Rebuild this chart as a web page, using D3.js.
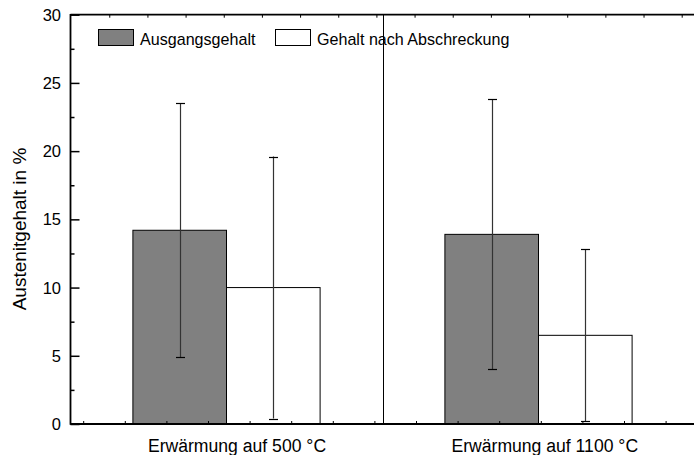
<!DOCTYPE html>
<html><head><meta charset="utf-8">
<script src="https://cdn.jsdelivr.net/npm/d3@7"></script>
<style>body{margin:0;background:#fff}svg{display:block}text{font-family:"Liberation Sans",Arial,sans-serif;fill:#000}</style>
</head><body><svg id="c" width="694" height="455"></svg>
<script>
const categories = ["Erwärmung auf 500 °C", "Erwärmung auf 1100 °C"];
const seriesNames = ["Ausgangsgehalt", "Gehalt nach Abschreckung"];
const ausgangValues = [14.2, 13.9];
const ausgangErrLow = [4.9, 4.0];
const ausgangErrHigh = [23.5, 23.8];
const abschreckValues = [10.0, 6.5];
const abschreckErrLow = [0.4, 0.2];
const abschreckErrHigh = [19.6, 12.8];
const yTicks = [0, 5, 10, 15, 20, 25, 30];
const yMinorTicks = [2.5, 7.5, 12.5, 17.5, 22.5, 27.5];

const svg = d3.select("#c");
const L = 70.5, R = 694.5, T = 14.7, B = 424;
const x = d3.scaleLinear().domain([0.5, 2.5]).range([L, R]);
const y = d3.scaleLinear().domain([0, 30]).range([B, T]);
const bw = 0.3;

const series = [
  {name: seriesNames[0], vals: ausgangValues, lo: ausgangErrLow, hi: ausgangErrHigh, fill: "#808080", off: -bw/2},
  {name: seriesNames[1], vals: abschreckValues, lo: abschreckErrLow, hi: abschreckErrHigh, fill: "#ffffff", off: bw/2}
];

// bars
series.forEach(s => {
  const g = svg.append("g");
  categories.forEach((c, i) => {
    const cx = x(i + 1 + s.off);
    const w = x(bw) - x(0);
    g.append("rect").attr("x", cx - w/2).attr("y", y(s.vals[i]))
      .attr("width", w).attr("height", y(0) - y(s.vals[i]))
      .attr("fill", s.fill).attr("stroke", "#000").attr("stroke-width", 1);
  });
});
// error bars
series.forEach(s => {
  categories.forEach((c, i) => {
    const cx = Math.round(x(i + 1 + s.off)) + 0.5;
    svg.append("line").attr("x1", cx).attr("x2", cx).attr("y1", y(s.lo[i])).attr("y2", y(s.hi[i]))
      .attr("stroke", "#333").attr("stroke-width", 1.2);
    [s.lo[i], s.hi[i]].forEach(v => {
      svg.append("line").attr("x1", cx - 4.5).attr("x2", cx + 4.5).attr("y1", Math.round(y(v)) + 0.5).attr("y2", Math.round(y(v)) + 0.5)
        .attr("stroke", "#000").attr("stroke-width", 1.2);
    });
  });
});

// separator
svg.append("line").attr("x1", Math.round(x(1.5)) + 0.5).attr("x2", Math.round(x(1.5)) + 0.5)
  .attr("y1", T).attr("y2", B).attr("stroke", "#000").attr("stroke-width", 1);

// y axis
const yAxis = d3.axisRight(y).tickValues(yTicks).tickSize(9).tickFormat("");
const yg = svg.append("g").attr("transform", `translate(${L},0)`).call(yAxis);
yg.select(".domain").remove();
yg.selectAll(".tick line").attr("stroke-width", 1.5);
const ym = svg.append("g").attr("transform", `translate(${L},0)`)
  .call(d3.axisRight(y).tickValues(yMinorTicks).tickSize(4).tickFormat(""));
ym.select(".domain").remove();
ym.selectAll(".tick line").attr("stroke-width", 1.5);
yTicks.forEach(v => {
  svg.append("text").attr("x", 61).attr("y", y(v) + 6).attr("text-anchor", "end")
    .attr("font-size", 16.5).text(v);
});

// x minor ticks (bottom/top)
const xb = d3.scaleLinear().domain([0, 15]).range([41.6, 665.6]);
const bx = svg.append("g").attr("transform", `translate(0,${B})`)
  .call(d3.axisTop(xb).tickValues(d3.range(1, 16)).tickSize(3).tickFormat(""));
bx.select(".domain").remove();
const xt = d3.scaleLinear().domain([0, 16]).range([71.1, 681.7]);
const tx = svg.append("g").attr("transform", `translate(0,${T})`)
  .call(d3.axisBottom(xt).tickValues(d3.range(1, 17)).tickSize(3).tickFormat(""));
tx.select(".domain").remove();

// frame lines
svg.append("line").attr("x1", L).attr("x2", L).attr("y1", T - 0.8).attr("y2", B + 0.8).attr("stroke", "#000").attr("stroke-width", 1.8);
svg.append("line").attr("x1", L).attr("x2", 694).attr("y1", B).attr("y2", B).attr("stroke", "#000").attr("stroke-width", 1.8);
svg.append("line").attr("x1", L).attr("x2", 694).attr("y1", T).attr("y2", T).attr("stroke", "#000").attr("stroke-width", 1.8);

// category labels (right-aligned to the white bar edge, as in the reference)
categories.forEach((c, i) => {
  svg.append("text").attr("x", x(i + 1 + bw) + 6).attr("y", 451.5).attr("text-anchor", "end")
    .attr("font-size", 17.6).text(c);
});

// y label
svg.append("text").attr("transform", `translate(26,229) rotate(-90)`)
  .attr("text-anchor", "middle").attr("font-size", 19).text("Austenitgehalt in %");

// legend
const legX = [98, 275];
series.forEach((s, i) => {
  svg.append("rect").attr("x", legX[i] + 0.5).attr("y", 29.5).attr("width", 35).attr("height", 16)
    .attr("fill", s.fill).attr("stroke", "#000").attr("stroke-width", 1);
  svg.append("text").attr("x", legX[i] + 42).attr("y", 44.5).attr("font-size", 16.1).text(s.name);
});
</script></body></html>
